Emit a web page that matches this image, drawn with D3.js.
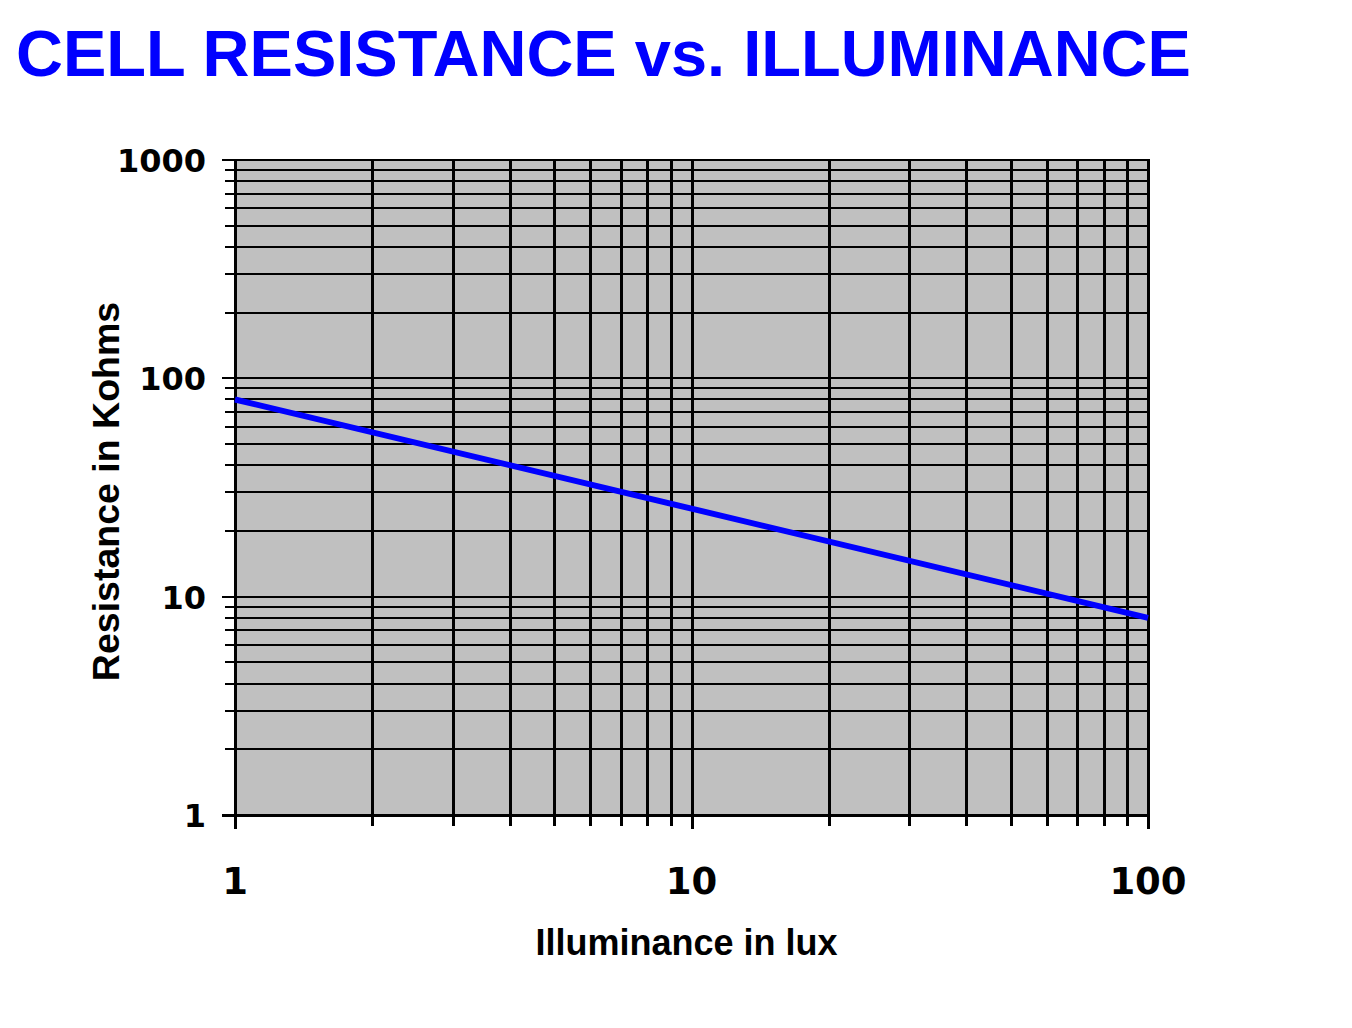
<!DOCTYPE html>
<html><head><meta charset="utf-8">
<script src="https://cdn.jsdelivr.net/npm/d3@7"></script>
<style>body{margin:0;background:#fff}svg{display:block}</style>
</head><body>
<script>
const titleText = "CELL RESISTANCE vs. ILLUMINANCE";
const xTitle = "Illuminance in lux";
const yTitle = "Resistance in Kohms";
const xTickLabels = [1, 10, 100];
const yTickLabels = [1, 10, 100, 1000];
const lux = [1, 10, 100];
const kohms = [80, 25.3, 8];

const W = 1352, H = 1028;
const svg = d3.select("body").append("svg").attr("width", W).attr("height", H);

const x = d3.scaleLog().domain([1, 100]).range([235, 1148]);
const y = d3.scaleLog().domain([1, 1000]).range([815, 160]);

const xGrid = [], yGrid = [];
for (let d = 1; d < 100; d *= 10) for (let k = 1; k < 10; k++) xGrid.push(d * k);
xGrid.push(100);
for (let d = 1; d < 1000; d *= 10) for (let k = 1; k < 10; k++) yGrid.push(d * k);
yGrid.push(1000);

svg.append("text").attr("x", 16).attr("y", 76)
  .attr("font-family", "Liberation Sans, Arial, sans-serif").attr("font-weight", "bold")
  .attr("font-size", 65).attr("fill", "#0000ff").text(titleText);

svg.append("rect").attr("x", x(1)).attr("y", y(1000))
  .attr("width", x(100) - x(1)).attr("height", y(1) - y(1000)).attr("fill", "#c0c0c0");

const isMajor = v => Math.abs(Math.log10(v) - Math.round(Math.log10(v))) < 1e-9;
const r = v => Math.round(v);

svg.append("g").attr("shape-rendering", "crispEdges").selectAll("line").data(yGrid).join("line")
  .attr("x1", v => isMajor(v) ? x(1) - 13 : x(1) - 10).attr("x2", x(100) + 1)
  .attr("y1", v => r(y(v))).attr("y2", v => r(y(v)))
  .attr("stroke", "#000").attr("stroke-width", 2.5);

svg.append("g").attr("shape-rendering", "crispEdges").selectAll("line").data(xGrid).join("line")
  .attr("x1", v => r(x(v))).attr("x2", v => r(x(v)))
  .attr("y1", y(1000) - 1).attr("y2", v => isMajor(v) ? y(1) + 14 : y(1) + 11)
  .attr("stroke", "#000").attr("stroke-width", 3);

svg.append("g").attr("shape-rendering", "crispEdges").call(g => {
  g.append("line").attr("x1", x(1)).attr("x2", x(1)).attr("y1", y(1000) - 1).attr("y2", y(1) + 14)
    .attr("stroke", "#000").attr("stroke-width", 3);
  g.append("line").attr("x1", x(1) - 13).attr("x2", x(100) + 1).attr("y1", y(1)).attr("y2", y(1))
    .attr("stroke", "#000").attr("stroke-width", 3);
});

svg.append("path").datum(lux.map((v, i) => [v, kohms[i]]))
  .attr("d", d3.line().x(d => x(d[0])).y(d => y(d[1])))
  .attr("fill", "none").attr("stroke", "#0000ff").attr("stroke-width", 6);

svg.append("g").selectAll("text").data(yTickLabels).join("text")
  .attr("x", 206).attr("y", v => y(v) + 12)
  .attr("text-anchor", "end")
  .attr("font-family", "DejaVu Sans, sans-serif").attr("font-weight", "bold")
  .attr("font-size", 32).attr("fill", "#000").text(v => v);

svg.append("g").selectAll("text").data(xTickLabels).join("text")
  .attr("x", v => x(v)).attr("y", 894)
  .attr("text-anchor", "middle")
  .attr("font-family", "DejaVu Sans, sans-serif").attr("font-weight", "bold")
  .attr("font-size", 37).attr("fill", "#000").text(v => v);

svg.append("text").attr("x", 686.5).attr("y", 955)
  .attr("text-anchor", "middle")
  .attr("font-family", "Liberation Sans, Arial, sans-serif").attr("font-weight", "bold")
  .attr("font-size", 36).attr("fill", "#000").text(xTitle);

svg.append("text").attr("transform", "translate(119,491.5) rotate(-90)")
  .attr("text-anchor", "middle")
  .attr("font-family", "Liberation Sans, Arial, sans-serif").attr("font-weight", "bold")
  .attr("font-size", 37.5).attr("fill", "#000").text(yTitle);
</script>
</body></html>
